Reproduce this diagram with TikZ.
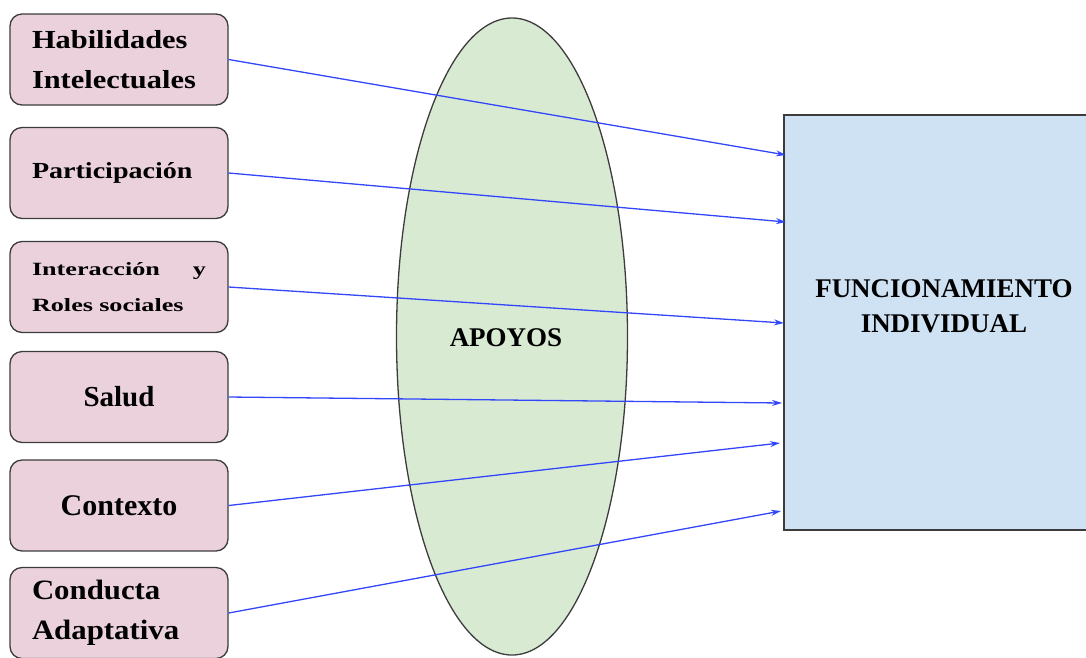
\documentclass[tikz,border=0pt]{standalone}
\usepackage{fontspec}
\setmainfont{Liberation Serif}
\newfontfamily\fA[FakeStretch=1.17]{Liberation Serif}
\newfontfamily\fB[FakeStretch=1.22]{Liberation Serif}
\newfontfamily\fC[FakeStretch=1.4]{Liberation Serif}
\newfontfamily\fD[FakeStretch=1.1]{Liberation Serif}
\usetikzlibrary{arrows.meta,shapes.geometric}
\definecolor{pinkbox}{RGB}{234,209,220}
\definecolor{greenell}{RGB}{217,234,211}
\definecolor{bluebox}{RGB}{207,226,243}
\definecolor{arrowblue}{RGB}{50,70,250}
\definecolor{edgegray}{RGB}{60,60,60}
\begin{document}
\begin{tikzpicture}[x=1pt,y=-1pt,
  leftbox/.style={draw=edgegray, line width=1.3pt, fill=pinkbox, rounded corners=12pt,
    minimum width=218pt, minimum height=91pt, text width=174pt, inner xsep=0pt, align=left},
  conn/.style={draw=arrowblue, line width=1.3pt, -{Stealth[length=10pt,width=6pt]}}]
\useasboundingbox (0,0) rectangle (1086,657);
\clip (0,0) rectangle (1086,657);
% right box
\node[draw=edgegray, line width=1.3pt, fill=bluebox, minimum width=320pt, minimum height=415pt] (fi) at (944,322.5) {};
\node[align=center, font=\fontsize{27}{35}\selectfont\bfseries] (fitext) at (944,306) {FUNCIONAMIENTO\\INDIVIDUAL};
% ellipse
\node[ellipse, draw=edgegray, line width=1.3pt, fill=greenell, minimum width=231pt, minimum height=637pt, inner sep=0pt] (apoyos) at (512,336.5) {};
\node[font=\fontsize{27}{30}\selectfont\bfseries] (apoyostext) at (506,338) {APOYOS};
% left boxes
\node[leftbox, font=\fA\fontsize{26}{40}\selectfont\bfseries] (b1) at (119,59.5) {Habilidades\\Intelectuales};
\node[leftbox, font=\fB\fontsize{23}{30}\selectfont\bfseries] (b2) at (119,173) {Participación};
\node[leftbox, font=\fC\fontsize{18.7}{36}\selectfont\bfseries] (b3) at (119,287) {Interacción\hfill y\\Roles sociales};
\node[leftbox, align=center, font=\fontsize{29}{36}\selectfont\bfseries] (b4) at (119,397) {Salud};
\node[leftbox, align=center, font=\fontsize{30}{36}\selectfont\bfseries] (b5) at (119,505.5) {Contexto};
\node[leftbox, font=\fD\fontsize{28}{40}\selectfont\bfseries] (b6) at (119,613) {Conducta\\Adaptativa};
% targets
\coordinate (t1) at (786,155);
\coordinate (t2) at (786,222);
\coordinate (t3) at (784,323);
\coordinate (t4) at (782,403);
\coordinate (t5) at (780,443);
\coordinate (t6) at (781,511);
\draw[conn] (b1.east) -- (t1);
\draw[conn] (b2.east) -- (t2);
\draw[conn] (b3.east) -- (t3);
\draw[conn] (b4.east) -- (t4);
\draw[conn] (b5.east) -- (t5);
\draw[conn] (b6.east) -- (t6);
\end{tikzpicture}
\end{document}
